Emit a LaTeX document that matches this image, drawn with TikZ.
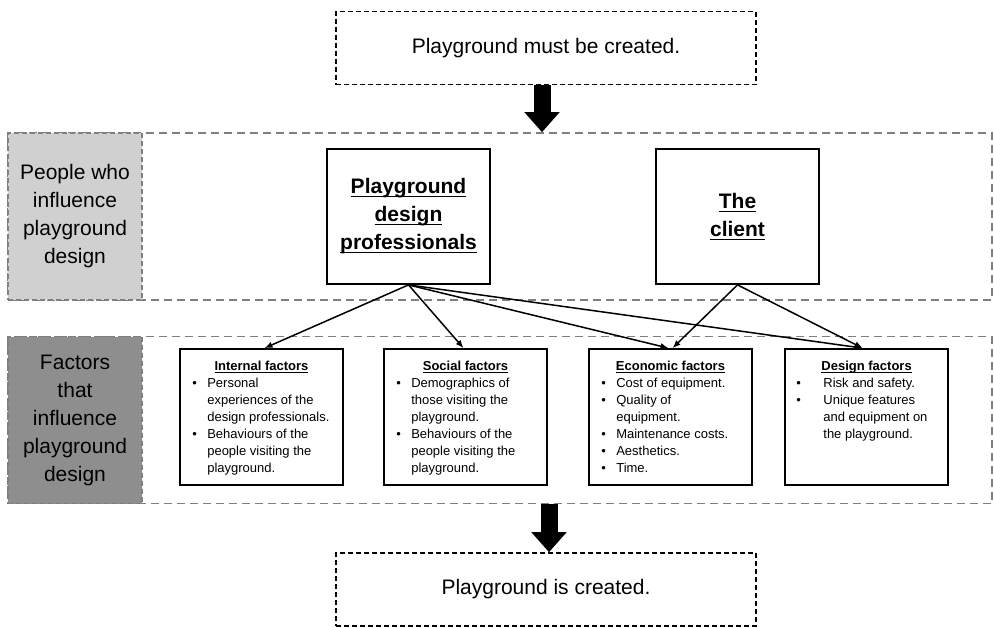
\documentclass[tikz,border=0pt]{standalone}
\usepackage{fontspec}
\setmainfont{Liberation Sans}
\usetikzlibrary{arrows.meta}
\definecolor{bandgray}{HTML}{7F7F7F}
\definecolor{lightlab}{HTML}{D0D0D0}
\definecolor{darklab}{HTML}{8E8E8E}
\newcommand\myul[3]{\setbox0\hbox{#3}\rlap{\rule[-#1]{\wd0}{#2}}\box0}
\newcommand\fstrut{\rule[-5pt]{0pt}{17pt}}
\newcommand\bA{\fstrut\makebox[15pt][l]{\textbullet}}
\newcommand\iA{\fstrut\hspace*{15pt}}
\newcommand\bB{\fstrut\makebox[27pt][l]{\textbullet}}
\newcommand\iB{\fstrut\hspace*{27pt}}
\begin{document}
\begin{tikzpicture}[x=1pt,y=-1pt,
  dashbox/.style={draw=black, line width=1.6pt, dash pattern=on 5pt off 3pt,
    minimum width=420pt, minimum height=73pt, inner sep=0pt,
    font=\fontsize{21}{28}\selectfont},
  band/.style={draw=bandgray, line width=1.6pt, dash pattern=on 8pt off 5pt,
    inner sep=0pt, minimum width=984pt, minimum height=167pt},
  labbox/.style={draw=bandgray, line width=1.2pt, dash pattern=on 5pt off 3pt,
    inner sep=0pt, minimum width=134pt, minimum height=167pt, align=center,
    font=\fontsize{21}{28}\selectfont},
  person/.style={draw=black, line width=1.8pt, fill=white, inner sep=0pt,
    minimum width=163pt, minimum height=135pt, align=center,
    font=\fontsize{21}{28}\selectfont\bfseries},
  factor/.style={draw=black, line width=1.8pt, fill=white, inner sep=0pt,
    minimum width=163pt, minimum height=136pt},
  ftitle/.style={anchor=base, inner sep=0pt, font=\fontsize{13}{17}\selectfont\bfseries},
  fbody/.style={anchor=north west, inner sep=0pt, align=left,
    font=\fontsize{13}{17}\selectfont},
  conn/.style={line width=1.5pt, -{Latex[length=8pt,width=6.5pt]}},
  bigarrow/.style={line width=17pt, -{Triangle[length=20pt,width=34pt]}}
]
\useasboundingbox (0,0) rectangle (994,627);
% bands
\node[band] (band1) at (500,216.5) {};
\node[band] (band2) at (500,420) {};
\node[labbox, fill=lightlab] (lab1) at (75,216.5) {People who\\influence\\playground\\design};
\node[labbox, fill=darklab] (lab2) at (75,420) {Factors\\that\\influence\\playground\\design};
% start / end
\node[dashbox] (top) at (546,48) {Playground must be created.};
\node[dashbox] (bot) at (546,589.5) {Playground is created.};
\coordinate (ta) at (542,0);
\coordinate (ba) at (549,0);
\draw[bigarrow] (top.south -| ta) -- (band1.north -| ta);
\draw[bigarrow] (band2.south -| ba) -- (bot.north -| ba);
% people
\node[person] (prof) at (408.5,216.5) {\myul{3.5pt}{1.3pt}{Playground}\\\myul{3.5pt}{1.3pt}{design}\\\myul{3.5pt}{1.3pt}{professionals}};
\node[person] (client) at (737.5,216.5) {\myul{3.5pt}{1.3pt}{The}\\\myul{3.5pt}{1.3pt}{client}};
% factors
\node[factor] (int) at (261.5,417) {};
\node[factor] (soc) at (465.5,417) {};
\node[factor] (eco) at (670.5,417) {};
\node[factor] (des) at (866.6,417) {};
\node[ftitle] (intT) at ([yshift=-22.5pt]int.north) {\myul{2.2pt}{0.9pt}{Internal factors}};
\node[ftitle] (socT) at ([yshift=-22.5pt]soc.north) {\myul{2.2pt}{0.9pt}{Social factors}};
\node[ftitle] (ecoT) at ([yshift=-22.5pt]eco.north) {\myul{2.2pt}{0.9pt}{Economic factors}};
\node[ftitle] (desT) at ([yshift=-22.5pt]des.north) {\myul{2.2pt}{0.9pt}{Design factors}};
\node[fbody] (intB) at ([xshift=13pt,yshift=-27.5pt]int.north west)
  {\bA Personal\\\iA experiences of the\\\iA design professionals.\\\bA Behaviours of the\\\iA people visiting the\\\iA playground.};
\node[fbody] (socB) at ([xshift=13pt,yshift=-27.5pt]soc.north west)
  {\bA Demographics of\\\iA those visiting the\\\iA playground.\\\bA Behaviours of the\\\iA people visiting the\\\iA playground.};
\node[fbody] (ecoB) at ([xshift=13pt,yshift=-27.5pt]eco.north west)
  {\bA Cost of equipment.\\\bA Quality of\\\iA equipment.\\\bA Maintenance costs.\\\bA Aesthetics.\\\bA Time.};
\node[fbody] (desB) at ([xshift=12pt,yshift=-27.5pt]des.north west)
  {\bB Risk and safety.\\\bB Unique features\\\iB and equipment on\\\iB the playground.};
% connectors
\draw[conn] (prof.south) -- ([xshift=3pt]int.north);
\draw[conn] (prof.south) -- ([xshift=-2pt]soc.north);
\draw[conn] (prof.south) -- ([xshift=-2pt]eco.north);
\draw[conn] (prof.south) -- ([xshift=-4pt]des.north);
\draw[conn] (client.south) -- ([xshift=2pt]eco.north);
\draw[conn] (client.south) -- ([xshift=-4pt]des.north);
\end{tikzpicture}
\end{document}
